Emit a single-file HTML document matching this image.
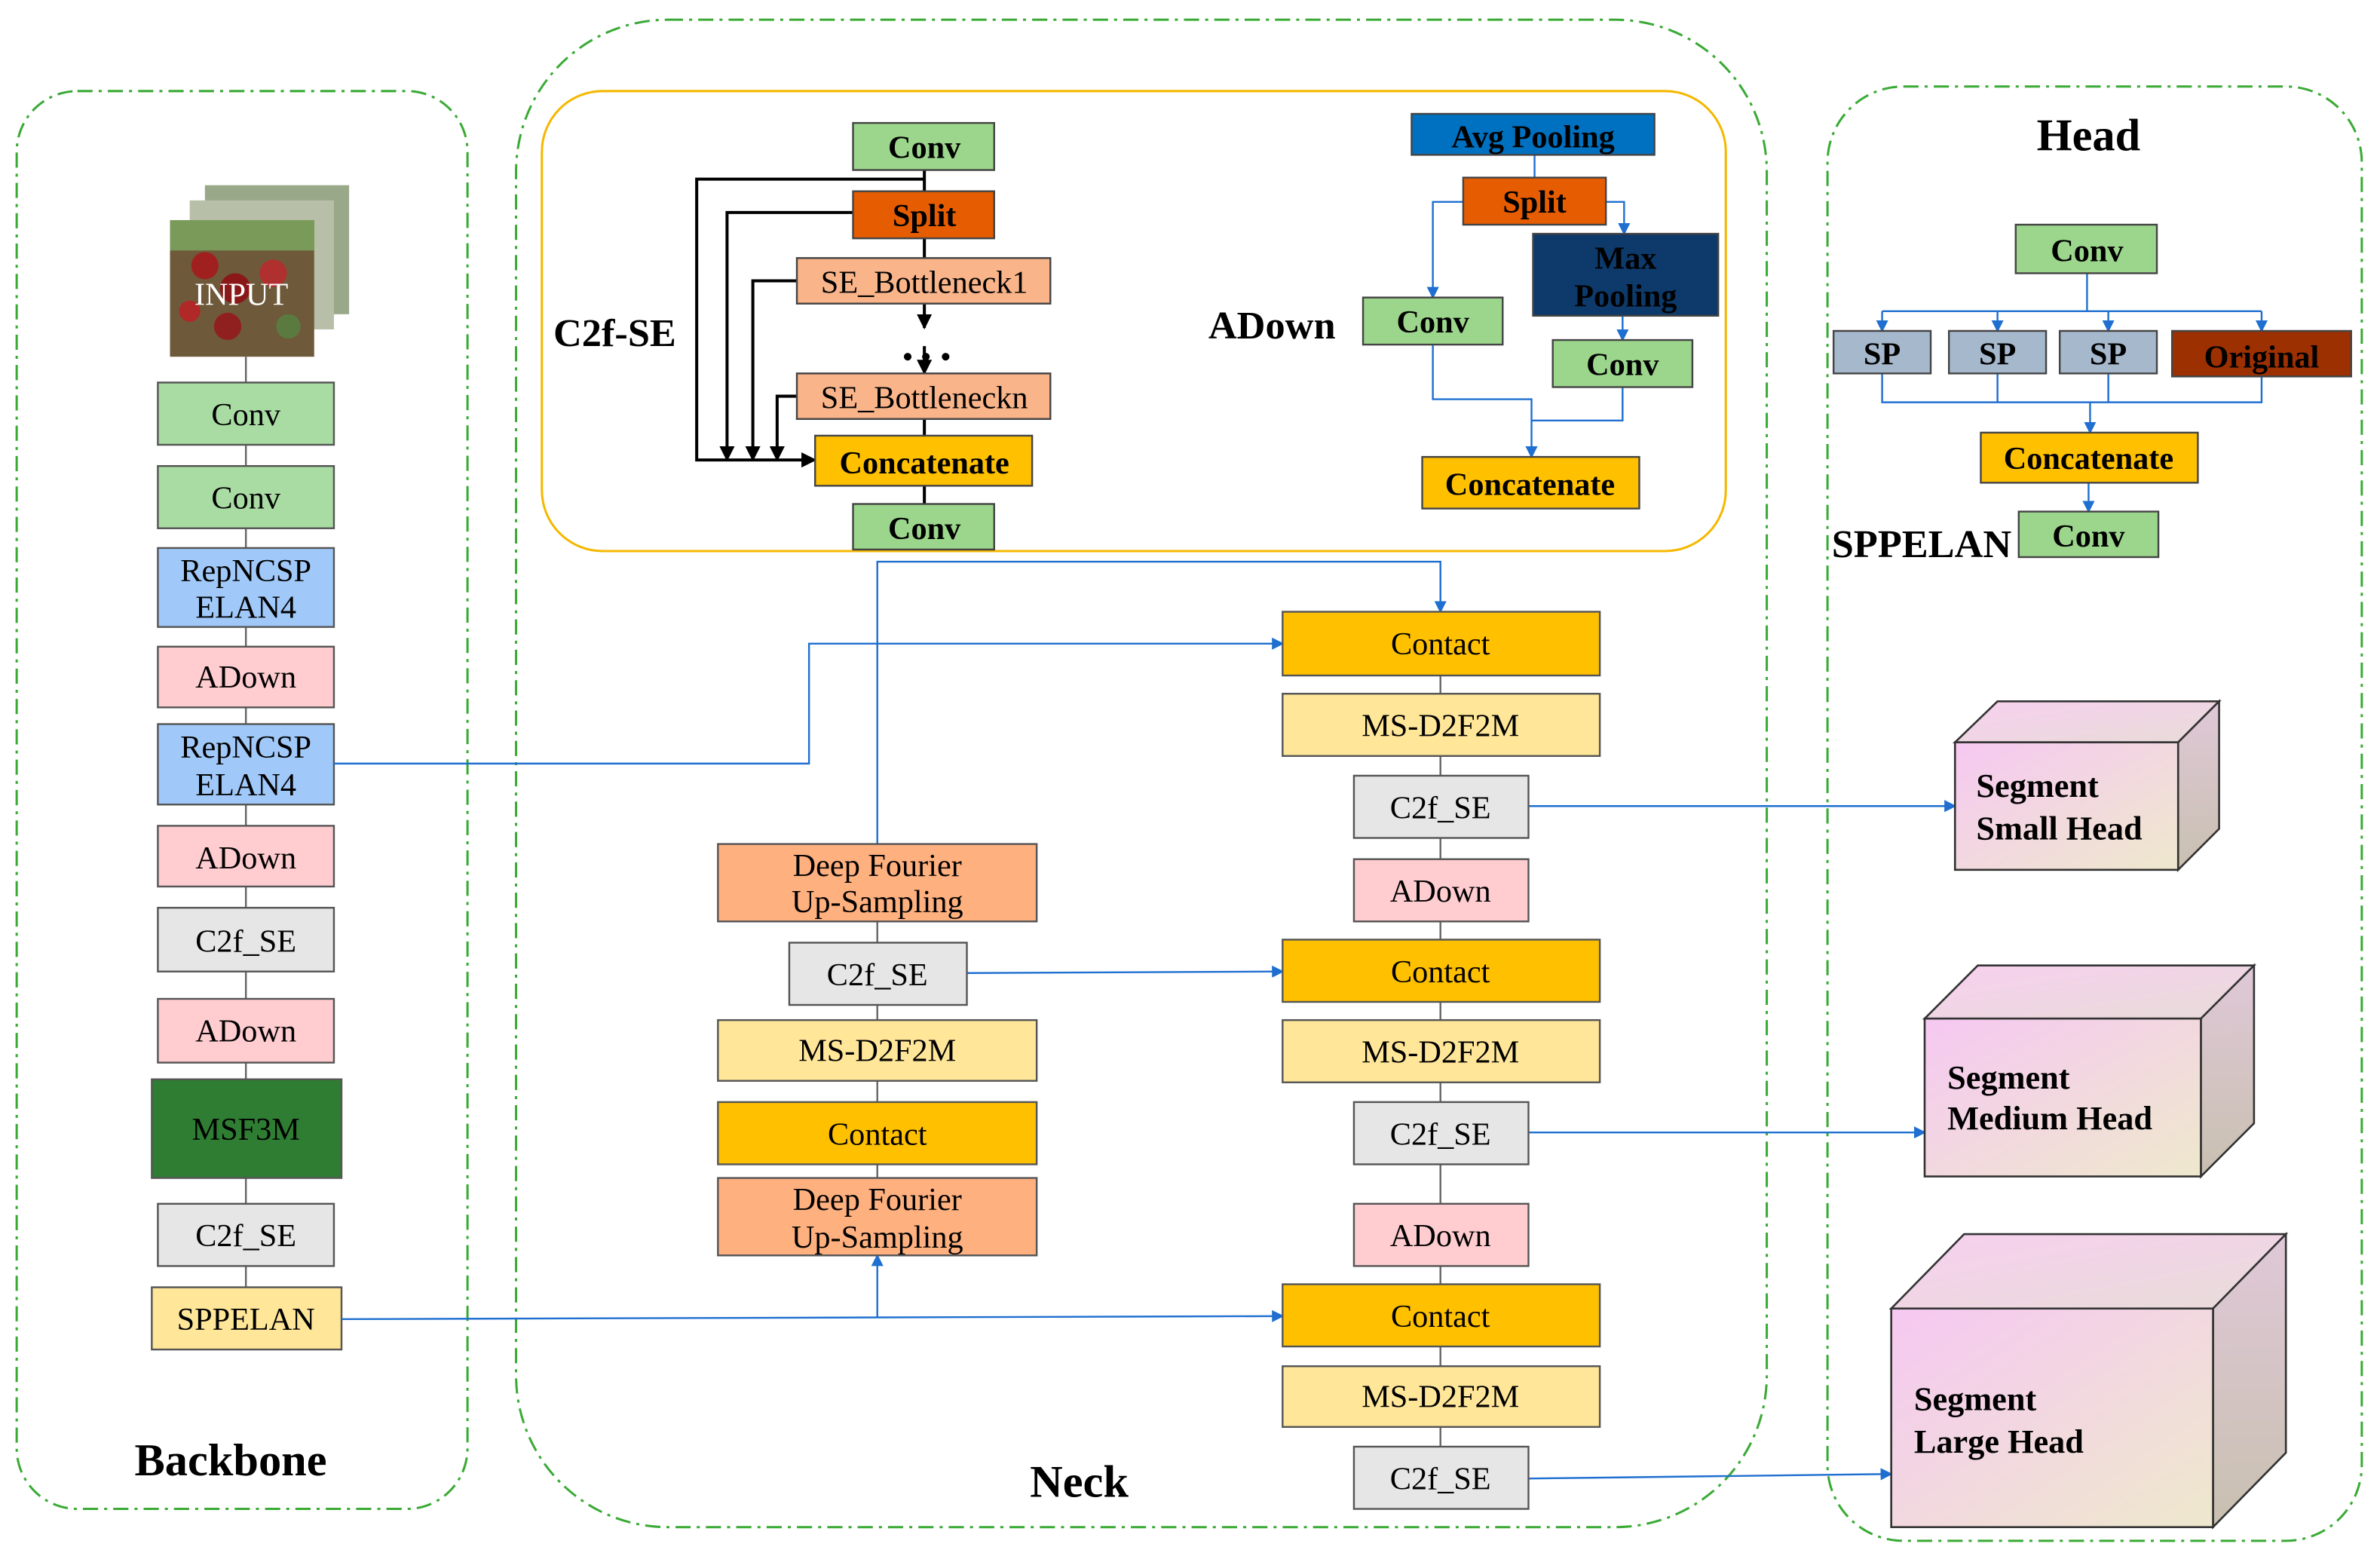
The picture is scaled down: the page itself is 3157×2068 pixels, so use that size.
<!DOCTYPE html>
<html><head><meta charset="utf-8"><style>
html,body{margin:0;padding:0;background:#fff;}
svg{display:block;}
text{font-family:"Liberation Serif",serif;}
</style></head><body>
<svg width="3157" height="2068" viewBox="0 0 1568 1027" preserveAspectRatio="none" xmlns="http://www.w3.org/2000/svg">
<defs>
<marker id="ab" markerWidth="8" markerHeight="8" refX="7" refY="4" orient="auto" markerUnits="userSpaceOnUse"><path d="M0,0 L8,4 L0,8 z" fill="#1f6fd0"/></marker>
<marker id="ak" markerWidth="10" markerHeight="10" refX="9" refY="5" orient="auto" markerUnits="userSpaceOnUse"><path d="M0,0 L10,5 L0,10 z" fill="#000"/></marker>
<linearGradient id="g1" x1="0" y1="0" x2="1" y2="1"><stop offset="0" stop-color="#f6c8f2"/><stop offset="1" stop-color="#eee8cc"/></linearGradient>
<linearGradient id="g2" x1="0" y1="0" x2="1" y2="1"><stop offset="0" stop-color="#f8d0f0"/><stop offset="1" stop-color="#e8dcd8"/></linearGradient>
<linearGradient id="g3" x1="0" y1="0" x2="0" y2="1"><stop offset="0" stop-color="#e0c8d8"/><stop offset="1" stop-color="#c8c0b0"/></linearGradient>
</defs>
<g fill="none" stroke="#3aaa35" stroke-width="1.5" stroke-dasharray="10,4,2,4">
<rect x="11" y="60" width="297" height="934" rx="40"/>
<rect x="340" y="13" width="824" height="993" rx="100"/>
<rect x="1204" y="57" width="352" height="958" rx="50"/>
</g>
<rect x="357" y="60" width="780" height="303" rx="40" fill="none" stroke="#f5b800" stroke-width="1.5"/>
<g font-weight="bold" font-size="30" text-anchor="middle" fill="#000">
<text x="152" y="972">Backbone</text>
<text x="711" y="986">Neck</text>
<text x="1376" y="99">Head</text>
</g>
<line x1="162" y1="235" x2="162" y2="848" stroke="#666" stroke-width="1.2"/>
<!-- input image -->
<rect x="135" y="122" width="95" height="85" fill="#9aa88a"/>
<rect x="125" y="132" width="95" height="85" fill="#b8bfa8"/>
<rect x="112" y="145" width="95" height="90" fill="#6e5a3a"/>
<rect x="112" y="145" width="95" height="20" fill="#7a9a5a"/>
<circle cx="135" cy="175" r="9" fill="#a02020"/><circle cx="155" cy="190" r="10" fill="#8a1818"/><circle cx="180" cy="180" r="9" fill="#b03030"/><circle cx="150" cy="215" r="9" fill="#902020"/><circle cx="190" cy="215" r="8" fill="#5a7a40"/><circle cx="125" cy="205" r="7" fill="#b02828"/>
<text x="159" y="201" font-size="21" text-anchor="middle" fill="#fff">INPUT</text>
<g stroke="#555" stroke-width="1.2">
<rect x="104" y="252" width="116" height="41" fill="#a9dca3"/>
<rect x="104" y="307" width="116" height="41" fill="#a9dca3"/>
<rect x="104" y="361" width="116" height="52" fill="#a0c8f8"/>
<rect x="104" y="426" width="116" height="40" fill="#ffccd0"/>
<rect x="104" y="477" width="116" height="53" fill="#a0c8f8"/>
<rect x="104" y="544" width="116" height="40" fill="#ffccd0"/>
<rect x="104" y="598" width="116" height="42" fill="#e6e6e6"/>
<rect x="104" y="658" width="116" height="42" fill="#ffccd0"/>
<rect x="100" y="711" width="125" height="65" fill="#2e7d32"/>
<rect x="104" y="793" width="116" height="41" fill="#e6e6e6"/>
<rect x="100" y="848" width="125" height="41" fill="#ffe699"/>
</g>
<g font-size="21" text-anchor="middle" fill="#000">
<text x="162" y="280">Conv</text><text x="162" y="335">Conv</text>
<text x="162" y="383">RepNCSP</text><text x="162" y="407">ELAN4</text>
<text x="162" y="453">ADown</text>
<text x="162" y="499">RepNCSP</text><text x="162" y="524">ELAN4</text>
<text x="162" y="572">ADown</text><text x="162" y="627">C2f_SE</text><text x="162" y="686">ADown</text>
<text x="162" y="751">MSF3M</text><text x="162" y="821">C2f_SE</text><text x="162" y="876">SPPELAN</text>
</g>
<g fill="none" stroke="#1f6fd0" stroke-width="1.2">
<path d="M578,556 V370 H949 V403" marker-end="url(#ab)"/>
<path d="M225,869 L845,867" marker-end="url(#ab)"/>
<path d="M578,868 V827" marker-end="url(#ab)"/>
<path d="M220,503 H533 V424 H845" marker-end="url(#ab)"/>
<path d="M637,641 L845,640" marker-end="url(#ab)"/>
<path d="M1007,531 H1288" marker-end="url(#ab)"/>
<path d="M1007,746 H1268" marker-end="url(#ab)"/>
<path d="M1007,974 L1246,971" marker-end="url(#ab)"/>
</g>
<line x1="578" y1="607" x2="578" y2="776" stroke="#666" stroke-width="1.2"/>
<line x1="949" y1="445" x2="949" y2="953" stroke="#666" stroke-width="1.2"/>
<g stroke="#555" stroke-width="1.2">
<rect x="473" y="556" width="210" height="51" fill="#ffb07f"/>
<rect x="520" y="621" width="117" height="41" fill="#e6e6e6"/>
<rect x="473" y="672" width="210" height="40" fill="#ffe699"/>
<rect x="473" y="726" width="210" height="41" fill="#ffc000"/>
<rect x="473" y="776" width="210" height="51" fill="#ffb07f"/>
<rect x="845" y="403" width="209" height="42" fill="#ffc000"/>
<rect x="845" y="457" width="209" height="41" fill="#ffe699"/>
<rect x="892" y="511" width="115" height="41" fill="#e6e6e6"/>
<rect x="892" y="566" width="115" height="41" fill="#ffccd0"/>
<rect x="845" y="619" width="209" height="41" fill="#ffc000"/>
<rect x="845" y="672" width="209" height="41" fill="#ffe699"/>
<rect x="892" y="726" width="115" height="41" fill="#e6e6e6"/>
<rect x="892" y="793" width="115" height="41" fill="#ffccd0"/>
<rect x="845" y="846" width="209" height="41" fill="#ffc000"/>
<rect x="845" y="900" width="209" height="40" fill="#ffe699"/>
<rect x="892" y="953" width="115" height="41" fill="#e6e6e6"/>
</g>
<g font-size="21" text-anchor="middle" fill="#000">
<text x="578" y="577">Deep Fourier</text><text x="578" y="601">Up-Sampling</text>
<text x="578" y="649">C2f_SE</text><text x="578" y="699">MS-D2F2M</text><text x="578" y="754">Contact</text>
<text x="578" y="797">Deep Fourier</text><text x="578" y="822">Up-Sampling</text>
<text x="949" y="431">Contact</text><text x="949" y="485">MS-D2F2M</text><text x="949" y="539">C2f_SE</text>
<text x="949" y="594">ADown</text><text x="949" y="647">Contact</text><text x="949" y="700">MS-D2F2M</text>
<text x="949" y="754">C2f_SE</text><text x="949" y="821">ADown</text><text x="949" y="874">Contact</text>
<text x="949" y="927">MS-D2F2M</text><text x="949" y="981">C2f_SE</text>
</g>
<g stroke="#333" stroke-width="1.3">
<polygon points="1288,489 1316,462 1462,462 1435,489" fill="url(#g2)"/>
<polygon points="1435,489 1462,462 1462,546 1435,573" fill="url(#g3)"/>
<rect x="1288" y="489" width="147" height="84" fill="url(#g1)"/>
<polygon points="1268,671 1303,636 1485,636 1450,671" fill="url(#g2)"/>
<polygon points="1450,671 1485,636 1485,740 1450,775" fill="url(#g3)"/>
<rect x="1268" y="671" width="182" height="104" fill="url(#g1)"/>
<polygon points="1246,862 1294,813 1506,813 1458,862" fill="url(#g2)"/>
<polygon points="1458,862 1506,813 1506,957 1458,1006" fill="url(#g3)"/>
<rect x="1246" y="862" width="212" height="144" fill="url(#g1)"/>
</g>
<g font-size="22" font-weight="bold" fill="#000">
<text x="1302" y="525">Segment</text><text x="1302" y="553">Small Head</text>
<text x="1283" y="717">Segment</text><text x="1283" y="744">Medium Head</text>
<text x="1261" y="929">Segment</text><text x="1261" y="957">Large Head</text>
</g>
<text x="405" y="228" font-size="26" font-weight="bold" text-anchor="middle">C2f-SE</text>
<g fill="none" stroke="#000" stroke-width="2">
<line x1="609" y1="112" x2="609" y2="126"/>
<line x1="609" y1="157" x2="609" y2="170"/>
<line x1="609" y1="200" x2="609" y2="216" marker-end="url(#ak)"/>
<line x1="609" y1="228" x2="609" y2="246" marker-end="url(#ak)"/>
<line x1="609" y1="276" x2="609" y2="287"/>
<line x1="609" y1="320" x2="609" y2="332"/>
<path d="M609,118 H459 V303 H537" marker-end="url(#ak)"/>
<path d="M562,140 H479 V303" marker-end="url(#ak)"/>
<path d="M525,185 H496 V303" marker-end="url(#ak)"/>
<path d="M525,261 H512 V303" marker-end="url(#ak)"/>
</g>
<circle cx="598" cy="235" r="2.5"/><circle cx="610" cy="235" r="2.5"/><circle cx="623" cy="235" r="2.5"/>
<g stroke="#444" stroke-width="1.2">
<rect x="562" y="81" width="93" height="31" fill="#9cd68c"/>
<rect x="562" y="126" width="93" height="31" fill="#e65c00"/>
<rect x="525" y="170" width="167" height="30" fill="#f9b48a"/>
<rect x="525" y="246" width="167" height="30" fill="#f9b48a"/>
<rect x="537" y="287" width="143" height="33" fill="#ffc000"/>
<rect x="562" y="332" width="93" height="30" fill="#9cd68c"/>
</g>
<g font-size="21" text-anchor="middle">
<text x="609" y="104" font-weight="bold">Conv</text>
<text x="609" y="149" font-weight="bold">Split</text>
<text x="609" y="193">SE_Bottleneck1</text>
<text x="609" y="269">SE_Bottleneckn</text>
<text x="609" y="312" font-weight="bold">Concatenate</text>
<text x="609" y="355" font-weight="bold">Conv</text>
</g>
<text x="838" y="223" font-size="26" font-weight="bold" text-anchor="middle">ADown</text>
<g fill="none" stroke="#1f6fd0" stroke-width="1.2">
<line x1="1011" y1="102" x2="1011" y2="117"/>
<path d="M964,133 H944 V196" marker-end="url(#ab)"/>
<path d="M1058,133 H1070 V154" marker-end="url(#ab)"/>
<path d="M1069,208 V224" marker-end="url(#ab)"/>
<path d="M944,227 V263 H1009 V301" marker-end="url(#ab)"/>
<path d="M1069,255 V277 H1009"/>
</g>
<g stroke="#444" stroke-width="1.2">
<rect x="930" y="75" width="160" height="27" fill="#0070c0"/>
<rect x="964" y="117" width="94" height="31" fill="#e65c00"/>
<rect x="1010" y="154" width="122" height="54" fill="#0d3a6b"/>
<rect x="898" y="196" width="92" height="31" fill="#9cd68c"/>
<rect x="1023" y="224" width="92" height="31" fill="#9cd68c"/>
<rect x="937" y="301" width="143" height="34" fill="#ffc000"/>
</g>
<g font-size="21" font-weight="bold" text-anchor="middle">
<text x="1010" y="97">Avg Pooling</text>
<text x="1011" y="140">Split</text>
<text x="1071" y="177">Max</text><text x="1071" y="202">Pooling</text>
<text x="944" y="219">Conv</text>
<text x="1069" y="247">Conv</text>
<text x="1008" y="326">Concatenate</text>
</g>
<text x="1266" y="367" font-size="26" font-weight="bold" text-anchor="middle">SPPELAN</text>
<g fill="none" stroke="#1f6fd0" stroke-width="1.2">
<path d="M1375,180 V205"/>
<path d="M1240,205 H1490"/>
<path d="M1240,205 V218" marker-end="url(#ab)"/>
<path d="M1316,205 V218" marker-end="url(#ab)"/>
<path d="M1389,205 V218" marker-end="url(#ab)"/>
<path d="M1490,205 V218" marker-end="url(#ab)"/>
<path d="M1240,246 V265 H1490 V248"/>
<path d="M1316,246 V265"/><path d="M1389,246 V265"/>
<path d="M1377,265 V285" marker-end="url(#ab)"/>
<path d="M1376,318 V337" marker-end="url(#ab)"/>
</g>
<g stroke="#444" stroke-width="1.2">
<rect x="1328" y="148" width="93" height="32" fill="#9cd68c"/>
<rect x="1208" y="218" width="64" height="28" fill="#a6b8cc"/>
<rect x="1284" y="218" width="64" height="28" fill="#a6b8cc"/>
<rect x="1357" y="218" width="64" height="28" fill="#a6b8cc"/>
<rect x="1431" y="218" width="118" height="30" fill="#9c3000"/>
<rect x="1305" y="285" width="143" height="33" fill="#ffc000"/>
<rect x="1330" y="337" width="92" height="30" fill="#9cd68c"/>
</g>
<g font-size="21" font-weight="bold" text-anchor="middle">
<text x="1375" y="172">Conv</text>
<text x="1240" y="240">SP</text><text x="1316" y="240">SP</text><text x="1389" y="240">SP</text>
<text x="1490" y="242">Original</text>
<text x="1376" y="309">Concatenate</text>
<text x="1376" y="360">Conv</text>
</g>
</svg>
</body></html>
